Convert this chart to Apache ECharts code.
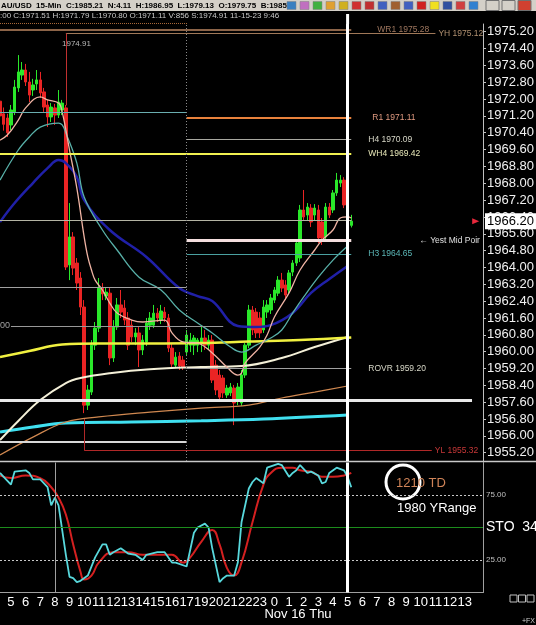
<!DOCTYPE html>
<html>
<head>
<meta charset="utf-8">
<script src="https://cdn.jsdelivr.net/npm/echarts@6/dist/echarts.min.js"></script>
<style>
html, body { margin: 0; padding: 0; background: #000; }
#chart { width: 536px; height: 625px; }
</style>
</head>
<body>
<div id="chart"></div>
<script>
// 交易时段小时（18点休市），从 11-15 4:15 开始
const sessionHours = [4,5,6,7,8,9,10,11,12,13,14,15,16,17,19,20,21,22,23,0,1,2,3,4,5,6,7,8,9,10,11,12,13,14];

// 15分钟K线 [开, 收, 低, 高]
const candles = [
  [1971.90, 1971.20, 1970.90, 1972.20], [1971.30, 1970.80, 1970.50, 1971.60],
  [1971.10, 1970.40, 1970.20, 1971.30], [1970.77, 1971.48, 1970.53, 1971.72],
  [1971.39, 1972.57, 1971.24, 1972.91], [1972.53, 1973.29, 1972.34, 1974.09],
  [1973.14, 1973.38, 1972.91, 1973.76], [1973.38, 1972.81, 1972.62, 1973.67],
  [1972.81, 1972.19, 1971.86, 1973.29], [1972.43, 1972.67, 1972.15, 1972.96],
  [1972.72, 1972.91, 1972.43, 1973.38], [1972.91, 1972.29, 1972.05, 1973.29],
  [1972.34, 1971.62, 1971.39, 1972.53], [1971.72, 1971.15, 1970.67, 1971.96],
  [1971.15, 1971.62, 1970.91, 1971.81], [1971.58, 1971.24, 1970.77, 1971.77],
  [1971.24, 1971.86, 1971.10, 1972.43], [1971.48, 1971.81, 1971.24, 1971.96],
  [1971.58, 1964.02, 1963.88, 1971.72], [1964.12, 1965.45, 1963.40, 1967.06],
  [1965.45, 1963.97, 1963.64, 1965.68], [1964.21, 1963.26, 1962.93, 1964.45],
  [1963.50, 1962.12, 1961.74, 1963.78], [1962.12, 1957.46, 1957.08, 1962.45],
  [1957.46, 1958.18, 1957.23, 1958.42], [1958.08, 1960.31, 1957.94, 1960.55],
  [1960.31, 1961.12, 1960.08, 1961.41], [1961.12, 1963.02, 1960.93, 1963.50],
  [1963.02, 1962.74, 1962.45, 1963.26], [1962.64, 1962.83, 1962.45, 1963.07],
  [1962.78, 1959.70, 1959.36, 1963.02], [1959.70, 1961.17, 1959.51, 1961.50],
  [1961.17, 1962.22, 1961.03, 1962.55], [1962.22, 1961.88, 1961.60, 1962.93],
  [1962.07, 1961.50, 1961.26, 1962.45], [1961.60, 1960.31, 1960.08, 1961.88],
  [1961.26, 1960.70, 1960.46, 1961.50], [1960.70, 1960.89, 1960.31, 1961.12],
  [1960.89, 1960.08, 1959.27, 1961.17], [1960.08, 1960.55, 1959.84, 1960.79],
  [1960.46, 1961.36, 1960.27, 1961.60], [1961.26, 1961.60, 1961.03, 1961.88],
  [1961.26, 1961.83, 1961.12, 1962.22], [1961.83, 1961.60, 1961.41, 1962.07],
  [1961.50, 1961.93, 1961.31, 1962.22], [1961.88, 1961.60, 1961.41, 1962.12],
  [1961.60, 1960.17, 1959.98, 1961.79], [1960.17, 1959.41, 1959.22, 1960.41],
  [1959.36, 1959.74, 1959.22, 1959.98], [1959.79, 1959.32, 1959.13, 1959.98],
  [1959.60, 1959.27, 1959.13, 1959.79], [1959.98, 1960.79, 1959.79, 1961.03],
  [1960.31, 1960.55, 1959.98, 1960.89], [1960.31, 1960.65, 1959.84, 1960.79],
  [1960.31, 1960.55, 1959.98, 1960.65], [1960.41, 1960.65, 1959.98, 1961.26],
  [1960.65, 1960.31, 1960.08, 1961.03], [1960.31, 1960.55, 1960.08, 1960.79],
  [1960.55, 1958.65, 1958.51, 1960.79], [1959.36, 1958.18, 1957.94, 1959.60],
  [1958.89, 1957.84, 1957.70, 1959.13], [1958.75, 1958.04, 1957.80, 1958.89],
  [1957.94, 1958.27, 1957.80, 1958.42], [1958.04, 1958.32, 1957.89, 1958.51],
  [1958.27, 1957.56, 1956.51, 1958.42], [1957.70, 1958.32, 1957.46, 1958.51],
  [1957.56, 1958.89, 1957.42, 1959.13], [1958.89, 1960.31, 1958.75, 1960.41],
  [1960.31, 1961.98, 1960.17, 1962.22], [1961.98, 1961.03, 1960.79, 1962.17],
  [1961.88, 1960.89, 1960.65, 1962.07], [1961.60, 1960.89, 1960.65, 1961.88],
  [1961.03, 1962.12, 1960.89, 1962.45], [1961.88, 1962.22, 1961.60, 1962.45],
  [1961.98, 1962.55, 1961.79, 1962.74], [1962.45, 1962.93, 1962.31, 1963.07],
  [1962.78, 1963.40, 1962.64, 1963.59], [1963.40, 1963.02, 1962.83, 1963.74],
  [1963.17, 1962.69, 1962.45, 1963.40], [1962.93, 1963.74, 1962.78, 1963.88],
  [1963.78, 1964.21, 1963.59, 1964.35], [1964.21, 1965.16, 1964.07, 1965.30],
  [1964.45, 1966.73, 1964.26, 1966.97], [1966.73, 1966.40, 1966.25, 1967.68],
  [1966.49, 1966.87, 1966.25, 1967.06], [1966.82, 1966.16, 1965.92, 1967.01],
  [1966.49, 1966.82, 1966.25, 1967.01], [1966.73, 1965.40, 1965.16, 1966.97],
  [1966.16, 1965.40, 1965.07, 1966.35], [1965.45, 1966.87, 1965.30, 1967.06],
  [1966.87, 1966.49, 1966.35, 1967.06], [1966.73, 1967.54, 1966.59, 1967.68],
  [1967.54, 1968.15, 1967.40, 1968.49], [1968.01, 1968.15, 1967.82, 1968.39],
  [1968.15, 1966.97, 1966.82, 1968.29], [1967.30, 1966.63, 1966.49, 1967.44],
  [1966.00, 1966.20, 1965.90, 1966.50]
];

// 均线 [K线序号, 价格]
const maFast = [[0,1970.05],[2,1970.29],[5,1971.00],[7,1971.58],[11,1972.10],[13,1971.96],[16,1971.81],[17,1971.39],
  [19,1969.58],[21,1967.77],[23,1965.45],[24,1964.50],[25,1963.88],[26,1963.40],[28,1962.93],[30,1962.31],[32,1961.84],
  [36,1961.50],[39,1961.41],[45,1961.50],[47,1960.89],[50,1960.46],[54,1960.41],[58,1959.94],[62,1959.27],[65,1958.89],
  [66,1958.98],[67,1959.46],[71,1960.22],[73,1960.79],[75,1961.65],[79,1962.79],[82,1963.88],[86,1964.83],[88,1965.30],
  [91,1965.78],[93,1966.35],[95,1966.40],[96,1966.35]];
const maMid = [[0,1968.15],[5,1969.58],[8,1970.20],[11,1970.67],[16,1970.86],[17,1970.77],[18,1970.39],[21,1968.96],
  [23,1967.35],[28,1965.78],[32,1964.83],[38,1963.54],[44,1962.93],[49,1961.98],[54,1961.36],[58,1960.89],[63,1960.22],
  [66,1959.98],[70,1960.31],[74,1960.65],[77,1961.03],[80,1961.84],[83,1962.60],[87,1963.54],[91,1964.35],[95,1965.02]];
const maBlue = [[0,1966.16],[4,1967.06],[9,1968.01],[13,1968.72],[16,1969.10],[18,1968.96],[21,1968.30],[23,1967.20],
  [30,1965.78],[40,1964.50],[49,1963.02],[54,1962.64],[58,1962.41],[65,1961.22],[70,1961.17],[74,1961.26],[80,1961.84],
  [85,1962.79],[90,1963.45],[95,1964.07]];
const maYellow = [[0,1959.75],[8,1960.03],[17,1960.34],[27,1960.39],[41,1960.39],[55,1960.41],[68,1960.48],[82,1960.55],[96,1960.67]];
const maCream = [[0,1955.80],[5,1956.71],[11,1957.70],[18,1958.51],[22,1958.75],[30,1958.98],[41,1959.17],[55,1959.27],
  [66,1959.32],[77,1959.70],[86,1960.22],[95,1960.70]];
const maTan = [[0,1955.09],[9,1955.94],[18,1956.66],[27,1956.90],[41,1957.13],[55,1957.32],[68,1957.46],[77,1957.80],[86,1958.08],[95,1958.37]];
const maCyan = [[0,1956.18],[9,1956.42],[18,1956.61],[36,1956.66],[55,1956.72],[72,1956.80],[95,1956.99]];

// 随机指标 %K / %D
const stoK = [[0,92],[1,89],[3,83],[4,93],[7,94],[8,92],[9,87],[11,87],[13,81],[14,67],[15,73],[16,67],[18,29],[19,12],
  [20,11],[21,8],[22,9],[24,13],[26,27],[28,37],[29,37],[30,29],[31,31],[33,34],[35,30],[37,29],[39,25],[40,29],[43,31],
  [45,31],[47,23],[48,23],[51,20],[53,46],[54,50],[56,53],[57,50],[58,34],[60,8],[61,11],[62,13],[64,13],[65,23],[66,54],
  [68,80],[69,85],[70,88],[72,84],[73,96],[74,97],[76,99],[77,98],[79,89],[80,92],[81,94],[82,98],[84,92],[85,93],[87,90],
  [88,84],[89,85],[90,92],[92,96],[94,94],[95,89],[96,81]];
const stoD = [[0,90],[3,88],[7,90],[11,88],[14,81],[16,73],[18,60],[20,37],[22,16],[23,10],[25,13],[27,23],[31,31],[35,31],
  [39,29],[43,29],[47,29],[50,23],[52,27],[55,39],[58,48],[60,37],[62,19],[64,13],[66,23],[69,54],[72,83],[74,92],[77,96],
  [80,96],[82,94],[85,93],[88,89],[91,89],[94,90],[96,92]];

// 关键价位 [名称, 价位, 起始K线, 结束K线]
const levelLines = [
  ['WR1', 1975.28, 0, 96],
  ['YH', 1975.12, 18, 119],
  ['R1', 1971.11, 51, 96],
  ['H4', 1970.09, 51, 96],
  ['WH4', 1969.42, 0, 96],
  ['YMP', 1965.27, 51, 96],
  ['H3', 1964.65, 51, 96],
  ['ROVR', 1959.20, 51, 96],
  ['YL', 1955.32, 23, 118]
];
// 无标签水平线 [价位, 起, 止]
const plainLines = [
  [1971.35, 0, 51],
  [1966.25, 0, 96],
  [1963.06, 0, 51],
  [1961.23, 3, 61],
  [1957.68, 0, 129],
  [1955.74, 0, 51]
];
const priceTicks = [1975.20, 1974.40, 1973.60, 1972.80, 1972.00, 1971.20, 1970.40, 1969.60, 1968.80, 1968.00, 1967.20,
  1966.40, 1965.60, 1964.80, 1964.00, 1963.20, 1962.40, 1961.60, 1960.80, 1960.00, 1959.20, 1958.40, 1957.60, 1956.80,
  1956.00, 1955.20];
const stoTicks = [25, 75];
const lastPrice = 1966.20;
const nowBar = 95;

// 生成时间轴
const barTimes = [];
sessionHours.forEach((h, k) => {
  const day = k < 19 ? 15 : 16;
  ['00', '15', '30', '45'].forEach(m => barTimes.push(day + ' ' + h + ':' + m));
});
const categories = barTimes.slice(1, 134);

const FONT = 'Liberation Sans';

const levelStyle = {
  WR1: { color: '#8c6448', width: 2, text: '#a07860', dist: 26 },
  YH: { color: '#a07858', width: 1, text: '#b09070', dist: 3 },
  R1: { color: '#e8823c', width: 2, text: '#e09a80', dist: 21 },
  H4: { color: '#a8a8a0', width: 1, text: '#d8d8c8', dist: 17 },
  WH4: { color: '#f0f050', width: 2, text: '#e8e8b8', dist: 17 },
  YMP: { color: '#f4dede', width: 3, text: '#e0e0e0', dist: 68, label: '\u2190 Yest Mid Poir' },
  H3: { color: '#4aa0a0', width: 1, text: '#5cb8b8', dist: 17 },
  ROVR: { color: '#a0a0a0', width: 1, text: '#d8d8c8', dist: 17 },
  YL: { color: '#b02828', width: 1, text: '#c83838', dist: 3 }
};
const plainStyle = [
  { color: '#6aaeb0', width: 1 },
  { color: '#b4b4a4', width: 1 },
  { color: '#a0a0a0', width: 1 },
  { color: '#989898', width: 1 },
  { color: '#e8e8e8', width: 3 },
  { color: '#d8d8d8', width: 2 }
];

const priceMarks = [];
levelLines.forEach(([name, v, a, b]) => {
  const s = levelStyle[name];
  priceMarks.push([
    {
      coord: [a, v],
      lineStyle: { color: s.color, width: s.width, type: 'solid' },
      label: {
        show: true, position: 'end', distance: s.dist, color: s.text,
        fontSize: 8.5, fontFamily: FONT, formatter: s.label || (name + ' ' + v.toFixed(2))
      }
    },
    { coord: [b, v] }
  ]);
});
plainLines.forEach(([v, a, b], i) => {
  priceMarks.push([
    { coord: [a, v], lineStyle: { color: plainStyle[i].color, width: plainStyle[i].width, type: 'solid' }, label: { show: false } },
    { coord: [b, v] }
  ]);
});
// 竖线
priceMarks.push([
  { coord: [18, 1975.12], lineStyle: { color: '#c03030', width: 1, type: 'solid' }, label: { show: false } },
  { coord: [18, 1971.7] }
]);
priceMarks.push([
  { coord: [23, 1956.8], lineStyle: { color: '#b02828', width: 1, type: 'solid' }, label: { show: false } },
  { coord: [23, 1955.32] }
]);
priceMarks.push({ xAxis: 51, lineStyle: { color: '#8a8a8a', width: 1, type: [1, 2] }, label: { show: false } });
priceMarks.push({ xAxis: nowBar, lineStyle: { color: '#ffffff', width: 3, type: 'solid' }, label: { show: false } });
// 当前价格框
priceMarks.push({
  yAxis: lastPrice,
  lineStyle: { width: 0, color: 'rgba(0,0,0,0)' },
  label: {
    show: true, position: 'end', distance: 2, formatter: lastPrice.toFixed(2), opacity: 1,
    backgroundColor: '#ffffff', color: '#000000', fontSize: 13, fontFamily: FONT, padding: [2, 2, 1, 2]
  }
});

function maSeries(data, color, width) {
  return {
    type: 'line', xAxisIndex: 0, yAxisIndex: 0, data: data, smooth: 0.4,
    showSymbol: false, silent: true, lineStyle: { color: color, width: width }, z: 3
  };
}

const iconColors = ['#3a7fc0', '#c070c0', '#40b040', '#e0a030', '#d0b020', '#d03030', '#c03030',
  '#4060c0', '#a06030', '#4060c0', '#d02020', '#f0e020', '#3050a0', '#d04040', '#3080d0'];
const graphics = [
  { type: 'rect', shape: { x: 0, y: 0, width: 536, height: 11 }, style: { fill: '#d4d0c8' } },
  {
    type: 'text', x: 1, y: 6,
    style: {
      text: 'AU/USD  15-Min  C:1985.21  N:4.11  H:1986.95  L:1979.13  O:1979.75  B:1985.2',
      fontSize: 8, fontWeight: 'bold', fontFamily: FONT, fill: '#000', verticalAlign: 'middle'
    }
  },
  {
    type: 'text', x: 0, y: 16,
    style: {
      text: ':00 C:1971.51 H:1971.79 L:1970.80 O:1971.11 V:856 S:1974.91 11-15-23 9:46',
      fontSize: 8, fontFamily: FONT, fill: '#c8c8c8', verticalAlign: 'middle'
    }
  },
  { type: 'line', shape: { x1: 0, y1: 23.5, x2: 188, y2: 23.5 }, style: { stroke: '#a86838', lineWidth: 1, lineDash: [1, 1] } },
  { type: 'line', shape: { x1: 347.6, y1: 14, x2: 347.6, y2: 24 }, style: { stroke: '#ffffff', lineWidth: 3 } },
  { type: 'line', shape: { x1: 0, y1: 461.5, x2: 536, y2: 461.5 }, style: { stroke: '#c8c8c8', lineWidth: 1.5 } },
  { type: 'text', x: 62, y: 44, style: { text: '1974.91', fontSize: 8, fontFamily: FONT, fill: '#b8b8b8', verticalAlign: 'middle' } },
  { type: 'text', x: 0, y: 326, style: { text: '00', fontSize: 9, fontFamily: FONT, fill: '#a0a0a0', verticalAlign: 'middle' } },
  { type: 'circle', shape: { cx: 403, cy: 482, r: 17 }, style: { fill: 'none', stroke: '#ffffff', lineWidth: 3 } },
  { type: 'text', x: 396, y: 483, style: { text: '1210 TD', fontSize: 13, fontFamily: FONT, fill: '#d08458', verticalAlign: 'middle' } },
  { type: 'text', x: 397, y: 508, style: { text: '1980 YRange', fontSize: 13, fontFamily: FONT, fill: '#ffffff', verticalAlign: 'middle' } },
  { type: 'text', x: 486, y: 527, style: { text: 'STO  34,', fontSize: 14, fontFamily: FONT, fill: '#ffffff', verticalAlign: 'middle' } },
  { type: 'text', x: 298, y: 614, style: { text: 'Nov 16 Thu', fontSize: 13, fontFamily: FONT, fill: '#ffffff', align: 'center', verticalAlign: 'middle' } },
  { type: 'text', x: 522, y: 621, style: { text: '+FX', fontSize: 7, fontFamily: FONT, fill: '#d0d0d0', verticalAlign: 'middle' } }
];
iconColors.forEach((c, i) => {
  graphics.push({ type: 'rect', shape: { x: 287 + i * 13, y: 1.5, width: 9, height: 8 }, style: { fill: c, stroke: '#808080', lineWidth: 0.5 } });
});
['#d4d0c8', '#d4d0c8', '#d04030'].forEach((c, i) => {
  graphics.push({ type: 'rect', shape: { x: 486 + i * 16, y: 0.5, width: 13, height: 10 }, style: { fill: c, stroke: '#707070', lineWidth: 1 } });
});
[0, 1, 2].forEach(i => {
  graphics.push({ type: 'rect', shape: { x: 510 + i * 8.5, y: 595, width: 7, height: 7 }, style: { fill: 'none', stroke: '#c0c0c0', lineWidth: 1 } });
});

const chart = echarts.init(document.getElementById('chart'));
chart.setOption({
  backgroundColor: '#000000',
  animation: false,
  grid: [
    { left: 0, right: 53, top: 24, bottom: 164, outerBoundsMode: 'none' },
    { left: 0, right: 53, top: 462.5, bottom: 32.5, outerBoundsMode: 'none' }
  ],
  xAxis: [
    { type: 'category', gridIndex: 0, data: categories, boundaryGap: false, show: false },
    {
      type: 'category', gridIndex: 1, data: categories, boundaryGap: false,
      axisLine: { show: true, lineStyle: { color: '#a0a0a0' } },
      axisTick: { show: false },
      splitLine: { show: false },
      axisLabel: {
        color: '#ffffff', fontSize: 13, fontFamily: FONT, margin: 3,
        interval: (index, value) => value.endsWith(':00') && index <= 128,
        formatter: value => value.split(' ')[1].split(':')[0]
      }
    }
  ],
  yAxis: [
    {
      type: 'value', gridIndex: 0, position: 'right', min: 1954.806, max: 1975.566,
      splitLine: { show: false },
      axisLine: { show: true, lineStyle: { color: '#c0c0c0' } },
      axisTick: { show: true, length: 3, customValues: priceTicks, lineStyle: { color: '#c0c0c0' } },
      axisLabel: {
        customValues: priceTicks, color: '#f0f0f0', fontSize: 13, fontFamily: FONT, margin: 4,
        formatter: v => v.toFixed(2)
      }
    },
    {
      type: 'value', gridIndex: 1, position: 'right', min: 0, max: 100,
      splitLine: { show: false },
      axisLine: { show: true, lineStyle: { color: '#a0a0a0' } },
      axisTick: { show: false },
      axisLabel: {
        customValues: stoTicks, color: '#c0c0c0', fontSize: 8, fontFamily: FONT, margin: 3,
        formatter: v => v.toFixed(2)
      }
    }
  ],
  graphic: graphics,
  series: [
    {
      type: 'candlestick', xAxisIndex: 0, yAxisIndex: 0, data: candles,
      barWidth: 3, z: 2,
      itemStyle: { color: '#2ae82a', color0: '#ea2424', borderColor: '#2ae82a', borderColor0: '#ea2424', borderWidth: 1 },
      markLine: { symbol: ['none', 'none'], silent: true, animation: false, data: priceMarks },
      markPoint: {
        silent: true, animation: false,
        data: [{ coord: [130, lastPrice], symbol: 'triangle', symbolSize: [6, 7], symbolRotate: -90, itemStyle: { color: '#e8283c' }, label: { show: false } }]
      }
    },
    maSeries(maCyan, '#40e0f0', 3),
    maSeries(maTan, '#d08850', 1.2),
    maSeries(maCream, '#f4f0d8', 2),
    maSeries(maYellow, '#f0f040', 2.5),
    maSeries(maBlue, '#2020a8', 2.5),
    maSeries(maMid, '#58b0a8', 1.3),
    maSeries(maFast, '#f0b4a4', 1.3),
    {
      type: 'line', xAxisIndex: 1, yAxisIndex: 1, data: stoD, smooth: 0.5, showSymbol: false, silent: true,
      lineStyle: { color: '#d42020', width: 2 }, z: 3
    },
    {
      type: 'line', xAxisIndex: 1, yAxisIndex: 1, data: stoK, showSymbol: false, silent: true,
      lineStyle: { color: '#58d8dc', width: 1.8 }, z: 4,
      markLine: {
        symbol: ['none', 'none'], silent: true, animation: false, label: { show: false },
        data: [
          { yAxis: 75, lineStyle: { color: '#c8c8c8', width: 1, type: [2, 2] } },
          { yAxis: 25, lineStyle: { color: '#c8c8c8', width: 1, type: [2, 2] } },
          { yAxis: 50, lineStyle: { color: '#1c8c1c', width: 1, type: 'solid' } },
          { xAxis: 15, lineStyle: { color: '#a0a0a0', width: 1, type: 'solid' } },
          { xAxis: nowBar, lineStyle: { color: '#ffffff', width: 3, type: 'solid' } }
        ]
      }
    }
  ]
});
</script>
</body>
</html>
